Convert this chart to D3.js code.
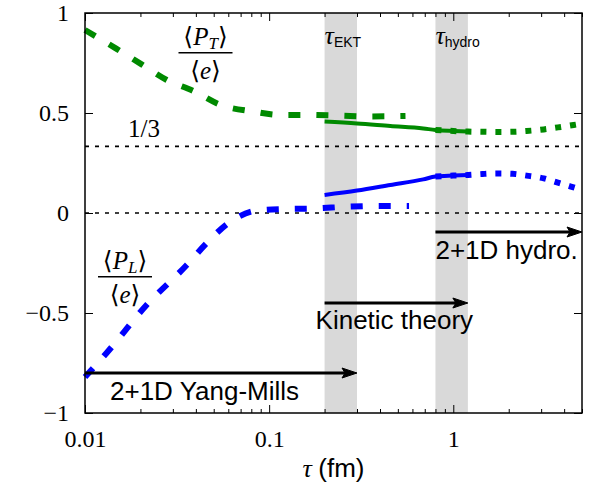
<!DOCTYPE html>
<html><head><meta charset="utf-8">
<script src="https://cdn.jsdelivr.net/npm/d3@7"></script>
<style>body{margin:0;background:#fff}</style>
</head><body><svg id="c" width="589" height="497"></svg>
<script>
// ---- data ----
const xTickValues = [0.01, 0.1, 1];
const xTickLabels = ["0.01", "0.1", "1"];
const yTickValues = [-1, -0.5, 0, 0.5, 1];
const yTickLabels = ["\u22121", "\u22120.5", "0", "0.5", "1"];

// 2+1D Yang-Mills (dashed)
const ymTauT = [0.01, 0.0147, 0.0203, 0.0278, 0.0388, 0.0546, 0.082, 0.115, 0.165, 0.24, 0.35, 0.55];
const ymPT   = [0.915, 0.823, 0.743, 0.665, 0.61, 0.54, 0.507, 0.49, 0.49, 0.487, 0.483, 0.485];
const ymTauL = [0.01, 0.0131, 0.0216, 0.0357, 0.0458, 0.0613, 0.0857, 0.125, 0.18, 0.26, 0.37, 0.575];
const ymPL   = [-0.82, -0.70, -0.46, -0.26, -0.15, -0.045, 0.012, 0.02, 0.023, 0.031, 0.035, 0.035];

// Kinetic theory (solid)
const ktTau = [0.2, 0.3, 0.455, 0.687, 0.8, 1.0, 1.2];
const ktPT  = [0.457, 0.448, 0.435, 0.423, 0.415, 0.41, 0.407];
const ktPL  = [0.09, 0.112, 0.14, 0.168, 0.182, 0.187, 0.19];

// 2+1D hydro (dotted)
const hyTau = [0.8, 1.0, 1.2, 1.44, 1.73, 2.1, 2.5, 3.1, 3.7, 4.5, 5.0];
const hyPT  = [0.415, 0.41, 0.407, 0.406, 0.405, 0.406, 0.41, 0.418, 0.428, 0.44, 0.447];
const hyPL  = [0.182, 0.187, 0.19, 0.195, 0.198, 0.196, 0.187, 0.173, 0.152, 0.128, 0.115];

// reference lines
const refLevels = [1/3, 0];
// shaded bands (tau_EKT, tau_hydro)
const bandLo = [0.2, 0.8];
const bandHi = [0.3, 1.2];
const bandNames = ["EKT", "hydro"];
// arrows
const arrowFrom = [0.01, 0.2, 0.8];
const arrowTo   = [0.3, 1.2, 5.0];
const arrowY    = [-0.8, -0.45, -0.095];
const arrowText = ["2+1D Yang-Mills", "Kinetic theory", "2+1D hydro."];

// ---- drawing ----
const svg = d3.select("#c");
const L = 85, R = 582, T = 13, B = 413;
const x = d3.scaleLog().domain([0.01, 5]).range([L, R]);
const y = d3.scaleLinear().domain([-1, 1]).range([B, T]);
const GREEN = "#008a00", BLUE = "#0000ff";
const serif = "'Liberation Serif','DejaVu Serif',serif";
const sans = "'Liberation Sans',Arial,sans-serif";

// bands
svg.append("g").selectAll("rect").data(bandLo).join("rect")
  .attr("x", (d) => x(d)).attr("y", T)
  .attr("width", (d, i) => x(bandHi[i]) - x(d)).attr("height", B - T)
  .attr("fill", "#d9d9d9");

// reference dotted lines
svg.append("g").selectAll("line").data(refLevels).join("line")
  .attr("x1", L).attr("x2", R).attr("y1", d => y(d)).attr("y2", d => y(d))
  .attr("stroke", "#000").attr("stroke-width", 1.6).attr("stroke-dasharray", "4,6");

const line = d3.line().x(d => x(d[0])).y(d => y(d[1])).curve(d3.curveMonotoneX);
function series(tau, vals, color, width, dash) {
  svg.append("path").datum(tau.map((t, i) => [t, vals[i]]))
    .attr("d", line).attr("fill", "none").attr("stroke", color)
    .attr("stroke-width", width).attr("stroke-dasharray", dash || null)
    .attr("stroke-linecap", "butt");
}
series(ymTauT, ymPT, GREEN, 6, "12,16");
series(ymTauL, ymPL, BLUE, 6, "12,16");
series(hyTau, hyPT, GREEN, 6, "6,9");
series(hyTau, hyPL, BLUE, 6, "6,9");
series(ktTau, ktPT, GREEN, 4);
series(ktTau, ktPL, BLUE, 4);

// axes
function styleAxis(g) {
  g.select(".domain").remove();
  g.selectAll(".tick line").attr("stroke", "#000").attr("stroke-width", 1);
  g.selectAll("text").attr("font-family", serif).attr("font-size", 24).attr("fill", "#000");
}
const minor = [];
[0.01, 0.1, 1].forEach(dec => { for (let k = 2; k <= 9; k++) { const v = dec * k; if (v <= 5.0001) minor.push(v); } });

svg.append("g").attr("transform", `translate(0,${B})`)
  .call(d3.axisBottom(x).tickValues(xTickValues).tickSize(-8).tickPadding(17)
    .tickFormat((d, i) => xTickLabels[i])).call(styleAxis);
svg.append("g").attr("transform", `translate(0,${B})`)
  .call(d3.axisBottom(x).tickValues(minor).tickSize(-4).tickFormat("")).call(styleAxis);
svg.append("g").attr("transform", `translate(0,${T})`)
  .call(d3.axisTop(x).tickValues(xTickValues).tickSize(-8).tickFormat("")).call(styleAxis);
svg.append("g").attr("transform", `translate(0,${T})`)
  .call(d3.axisTop(x).tickValues(minor).tickSize(-4).tickFormat("")).call(styleAxis);
svg.append("g").attr("transform", `translate(${L},0)`)
  .call(d3.axisLeft(y).tickValues(yTickValues).tickSize(-8).tickPadding(16)
    .tickFormat((d, i) => yTickLabels[i])).call(styleAxis);
svg.append("g").attr("transform", `translate(${R},0)`)
  .call(d3.axisRight(y).tickValues(yTickValues).tickSize(-8).tickFormat("")).call(styleAxis);

// frame
svg.append("rect").attr("x", L).attr("y", T).attr("width", R - L).attr("height", B - T)
  .attr("fill", "none").attr("stroke", "#000").attr("stroke-width", 1.5);

// arrows
arrowFrom.forEach((f, i) => {
  const x1 = x(f), x2 = x(arrowTo[i]), yy = y(arrowY[i]);
  svg.append("line").attr("x1", x1).attr("x2", x2 - 10).attr("y1", yy).attr("y2", yy)
    .attr("stroke", "#000").attr("stroke-width", 3);
  svg.append("path").attr("d", `M${x2},${yy} L${x2 - 15},${yy - 5} L${x2 - 12},${yy} L${x2 - 15},${yy + 5} Z`)
    .attr("fill", "#000").attr("stroke", "#000").attr("stroke-width", 1);
});
// arrow labels
const labelPos = [[x(0.01) + 25, y(arrowY[0]) + 27], [x(0.2) - 9, y(arrowY[1]) + 26], [x(0.8), y(arrowY[2]) + 27]];
arrowText.forEach((t, i) => {
  svg.append("text").attr("x", labelPos[i][0]).attr("y", labelPos[i][1])
    .attr("font-family", sans).attr("font-size", 26).text(t);
});

// band labels tau_EKT, tau_hydro
bandLo.forEach((b, i) => {
  const t = svg.append("text").attr("x", x(b)).attr("y", 44).attr("font-family", serif).attr("font-size", 26);
  t.append("tspan").attr("font-style", "italic").text("\u03c4");
  t.append("tspan").attr("font-family", sans).attr("font-size", 14).attr("dy", 3).text(bandNames[i]);
});

// 1/3 label
svg.append("text").attr("x", 128).attr("y", y(1/3) - 9).attr("font-family", serif)
  .attr("font-size", 25).text("1/3");

// fraction labels
function frac(cx, barY, sub) {
  const num = svg.append("text").attr("x", cx).attr("y", barY - 8).attr("text-anchor", "middle")
    .attr("font-family", serif).attr("font-size", 25);
  num.append("tspan").text("\u27e8");
  num.append("tspan").attr("font-style", "italic").text("P");
  num.append("tspan").attr("font-style", "italic").attr("font-size", 17).attr("dy", 4).text(sub);
  num.append("tspan").attr("dy", -4).text("\u27e9");
  svg.append("line").attr("x1", cx - 27).attr("x2", cx + 27).attr("y1", barY).attr("y2", barY)
    .attr("stroke", "#000").attr("stroke-width", 1.6);
  const den = svg.append("text").attr("x", cx).attr("y", barY + 26).attr("text-anchor", "middle")
    .attr("font-family", serif).attr("font-size", 25);
  den.append("tspan").text("\u27e8");
  den.append("tspan").attr("font-style", "italic").text("e");
  den.append("tspan").text("\u27e9");
}
frac(205.5, 52.7, "T");
frac(125, 276.7, "L");

// x axis title
const xt = svg.append("text").attr("x", (L + R) / 2).attr("y", 477).attr("text-anchor", "middle")
  .attr("font-size", 26);
xt.append("tspan").attr("font-family", serif).attr("font-style", "italic").text("\u03c4 ");
xt.append("tspan").attr("font-family", sans).text("(fm)");
</script>
</body></html>
